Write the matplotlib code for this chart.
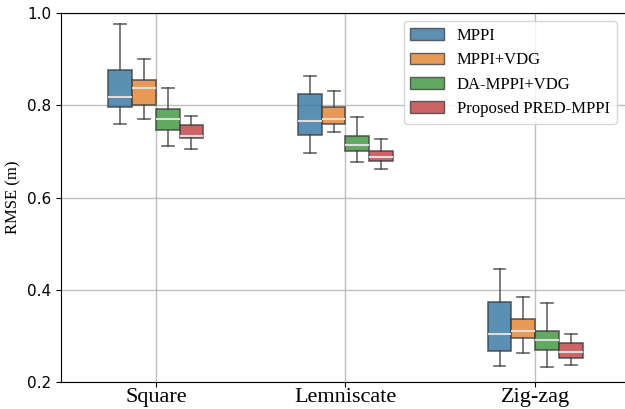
import numpy as np
import matplotlib
matplotlib.use("Agg")
import matplotlib.pyplot as plt
from matplotlib.patches import Patch

# trajectories and methods
trajectories = ["Square", "Lemniscate", "Zig-zag"]
methods = ["MPPI", "MPPI+VDG", "DA-MPPI+VDG", "Proposed PRED-MPPI"]
colors = ["#3274a1", "#e1812c", "#3a923a", "#c03d3e"]

# box stats: rows = trajectories, cols = methods
whislo = [[0.760, 0.770, 0.711, 0.706],
          [0.696, 0.743, 0.678, 0.662],
          [0.235, 0.262, 0.232, 0.237]]
q1 = [[0.796, 0.800, 0.746, 0.729],
      [0.735, 0.760, 0.702, 0.680],
      [0.267, 0.295, 0.269, 0.252]]
med = [[0.818, 0.837, 0.770, 0.734],
       [0.767, 0.770, 0.713, 0.689],
       [0.304, 0.311, 0.291, 0.265]]
q3 = [[0.876, 0.855, 0.793, 0.757],
      [0.824, 0.796, 0.733, 0.702],
      [0.373, 0.337, 0.310, 0.285]]
whishi = [[0.977, 0.900, 0.837, 0.777],
          [0.864, 0.831, 0.775, 0.728],
          [0.444, 0.385, 0.371, 0.305]]

fig = plt.figure(figsize=(6.25, 4.09), dpi=100)
ax = fig.add_axes([0.0976, 0.066, 0.9024, 0.902])

box_w = 0.125
offsets = (np.arange(len(methods)) - 1.5) * box_w

for j, m in enumerate(methods):
    stats = []
    for i in range(len(trajectories)):
        stats.append(dict(whislo=whislo[i][j], q1=q1[i][j], med=med[i][j],
                          q3=q3[i][j], whishi=whishi[i][j], fliers=[]))
    pos = np.arange(len(trajectories)) + offsets[j]
    ax.bxp(stats, positions=pos, widths=box_w, patch_artist=True,
           showfliers=False,
           boxprops=dict(facecolor=colors[j], edgecolor="#3f3f3f", alpha=0.8, linewidth=1.2),
           medianprops=dict(color="#dddddd", linewidth=1.5),
           whiskerprops=dict(color="#3f3f3f", alpha=0.8, linewidth=1.2),
           capprops=dict(color="#3f3f3f", alpha=0.8, linewidth=1.2),
           capwidths=box_w * 0.5, zorder=3)

ax.set_xlim(-0.5, 2.474)
ax.set_ylim(0.2, 1.0)
ax.set_xticks(np.arange(len(trajectories)))
ax.set_xticklabels(trajectories, family="Liberation Serif", fontsize=16)
ax.tick_params(axis="x", pad=1)
ax.set_yticks([0.2, 0.4, 0.6, 0.8, 1.0])
ax.tick_params(axis="y", labelsize=11)
ax.set_ylabel("RMSE (m)", family="Liberation Serif", fontsize=12)
ax.grid(True, color="#b0b0b0", linewidth=1.0, alpha=0.8, zorder=0)
ax.set_axisbelow(True)
ax.spines["right"].set_visible(False)

handles = [Patch(facecolor=c, edgecolor="#3f3f3f", alpha=0.8, label=m)
           for c, m in zip(colors, methods)]
ax.legend(handles=handles, loc="upper right", bbox_to_anchor=(1.0, 1.0),
          prop=dict(family="Liberation Serif", size=12))

fig.savefig("out.png", dpi=100)
